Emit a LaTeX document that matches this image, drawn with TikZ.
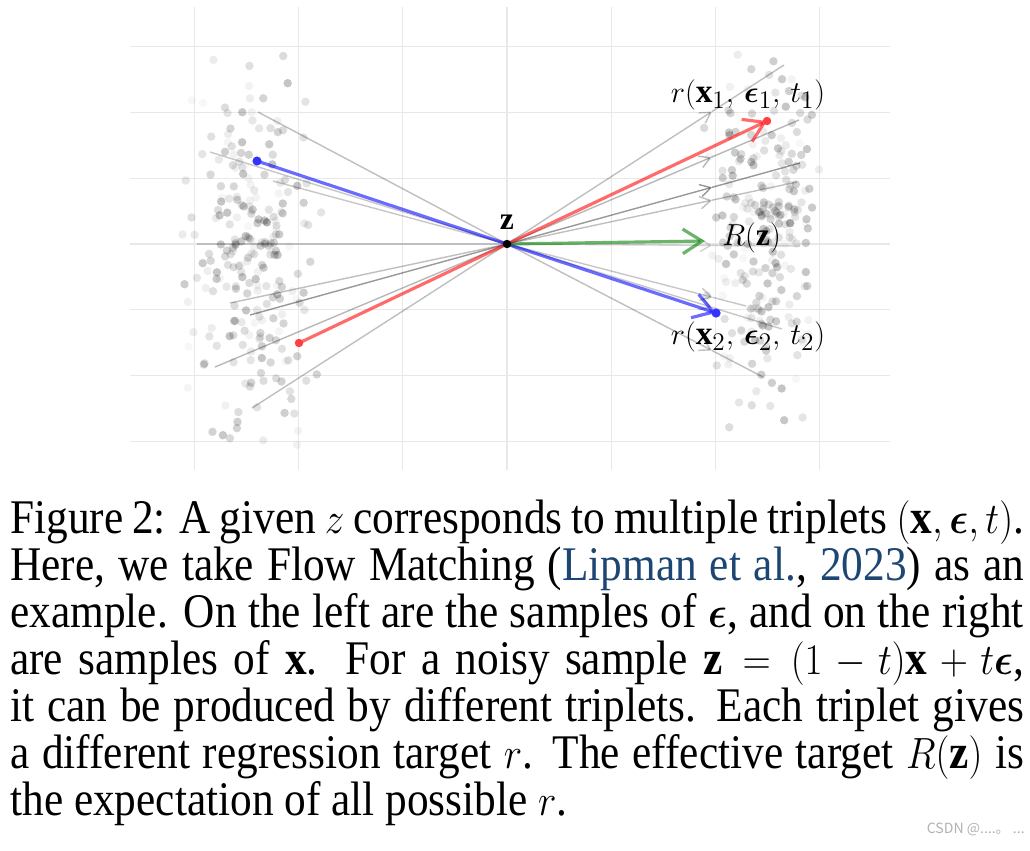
\documentclass[tikz,border=0pt]{standalone}
\usepackage{amsmath,amssymb}
\usepackage{graphicx}
\usepackage{fontspec}
\setmainfont{Liberation Serif}
\newfontfamily\cjk{Noto Sans CJK SC}
\usepackage{tikz}
\usetikzlibrary{arrows.meta, positioning, calc}
\definecolor{gridgray}{RGB}{232,232,232}
\definecolor{citeblue}{RGB}{30,70,115}
\newlength{\capnat}\setlength{\capnat}{22.63cm}
\newcommand{\capsx}{0.896}
\newcommand{\capline}[1]{\scalebox{\capsx}[1]{\makebox[\capnat][s]{#1}}}
\newcommand{\caplast}[1]{\scalebox{\capsx}[1]{#1}}

\begin{document}
\begin{tikzpicture}[
    x=0.02cm, y=-0.02cm,
    gridline/.style={gridgray, line width=0.6pt},
    sample/.style={black, opacity=#1},
    trip/.style={black, opacity=#1, line width=0.8pt},
    triparrow/.style={black, opacity=#1, line width=0.8pt, -{Straight Barb[length=6pt, width=7pt]}},
    rline/.style={#1, opacity=0.58, line width=1.8pt},
    rarrow/.style={#1, opacity=0.58, line width=1.8pt, -{Straight Barb[length=11pt, width=14pt]}},
    lbl/.style={font=\fontsize{18pt}{20pt}\selectfont, inner sep=0pt},
    rlbl/.style={font=\fontsize{19pt}{21pt}\selectfont, inner sep=0pt},
    capt/.style={font=\fontsize{27.5pt}{30pt}\selectfont, inner sep=0pt, anchor=base west}
]
\useasboundingbox (0,0) rectangle (1030,850);
\fill[white] (0,0) rectangle (1030,850);

% Grid
\foreach \g in {-3,...,3} {
    \draw[gridline] (507+104.2*\g,7) -- (507+104.2*\g,470);
    \draw[gridline] (130,244+65.8*\g) -- (890,244+65.8*\g);
}

% Samples of epsilon (left) and of x (right)
\pgfmathsetseed{42}
\foreach \i in {1,...,240} {
    \pgfmathsetmacro\px{252+38*(rand+rand)}
    \pgfmathsetmacro\py{250+105*(rand+rand)}
    \pgfmathsetmacro\op{0.03+0.2*rnd}
    \fill[sample=\op] (\px,\py) circle[radius=2.4pt];
}
\foreach \i in {1,...,240} {
    \pgfmathsetmacro\px{762+30*(rand+rand)}
    \pgfmathsetmacro\py{240+100*(rand+rand)}
    \pgfmathsetmacro\op{0.03+0.2*rnd}
    \fill[sample=\op] (\px,\py) circle[radius=2.4pt];
}

% Triplets passing through z
\coordinate (z) at (507,244);
\foreach \ex/\ey/\xx/\xy/\f/\op [count=\k] in {
    258/112/763/377/0.80/0.25, 210/152/782/329/0.745/0.22,
    273/181/746/306/0.86/0.22, 230/303/797/182/0.707/0.25,
    250/315/800/163/0.70/0.4, 215/367/799/120/0.70/0.28,
    252/408/784/65/0.74/0.25, 197/244/800/246/0.70/0.18} {
    \coordinate (e\k) at (\ex,\ey);
    \coordinate (x\k) at (\xx,\xy);
    \coordinate (t\k) at ($(z)!\f!(x\k)$);
    \draw[trip=\op] (e\k) -- (z);
    \draw[triparrow=\op] (z) -- (t\k);
    \draw[trip=\op] (t\k) -- (x\k);
}

% Highlighted triplets and the effective target
\coordinate (eb) at (257,161);
\coordinate (xb) at (716,313);
\coordinate (er) at (299,343);
\coordinate (xr) at (767,121);
\coordinate (rz) at (705,241);
\draw[rline=blue] (eb) -- (z);
\draw[rarrow=blue] (z) -- (xb);
\draw[rline=red] (er) -- (z);
\draw[rarrow=red] (z) -- (xr);
\draw[rarrow=green!50!black] (z) -- (rz);
\fill[blue!80] (eb) circle[radius=2.6pt];
\fill[blue!80] (xb) circle[radius=2.6pt];
\fill[red!75] (er) circle[radius=2.4pt];
\fill[red!75] (xr) circle[radius=2.4pt];
\fill[black] (z) circle[radius=2.4pt];

% Labels
\node[lbl, above=0.28cm of z] (zlab) {$\mathbf{z}$};
\node[rlbl] (r1lab) at (748,95) {$r(\mathbf{x}_1,\, \boldsymbol{\epsilon}_1,\, t_1)$};
\node[lbl, anchor=west] (Rlab) at (722,238) {$R(\mathbf{z})$};
\node[rlbl] (r2lab) at (748,337) {$r(\mathbf{x}_2,\, \boldsymbol{\epsilon}_2,\, t_2)$};

% Caption
\node[capt] (cap1) at (10,533) {\capline{Figure 2: A given $z$ corresponds to multiple triplets $(\mathbf{x}, \boldsymbol{\epsilon}, t)$.}};
\node[capt] (cap2) at (10,580) {\capline{Here, we take Flow Matching (\textcolor{citeblue}{Lipman et al.}, \textcolor{citeblue}{2023}) as an}};
\node[capt] (cap3) at (10,627) {\capline{example. On the left are the samples of $\boldsymbol{\epsilon}$, and on the right}};
\node[capt] (cap4) at (10,674) {\capline{are samples of $\mathbf{x}$. For a noisy sample $\mathbf{z} = (1-t)\mathbf{x} + t\boldsymbol{\epsilon}$,}};
\node[capt] (cap5) at (10,721) {\capline{it can be produced by different triplets. Each triplet gives}};
\node[capt] (cap6) at (10,768) {\capline{a different regression target $r$. The effective target $R(\mathbf{z})$ is}};
\node[capt] (cap7) at (10,815) {\caplast{the expectation of all possible $r$.}};

% Watermark
\node[font=\cjk\fontsize{8pt}{9pt}\selectfont, text=gray!60, inner sep=0pt, anchor=base east] (mark) at (1025,833) {CSDN @....。 ...};
\end{tikzpicture}
\end{document}
